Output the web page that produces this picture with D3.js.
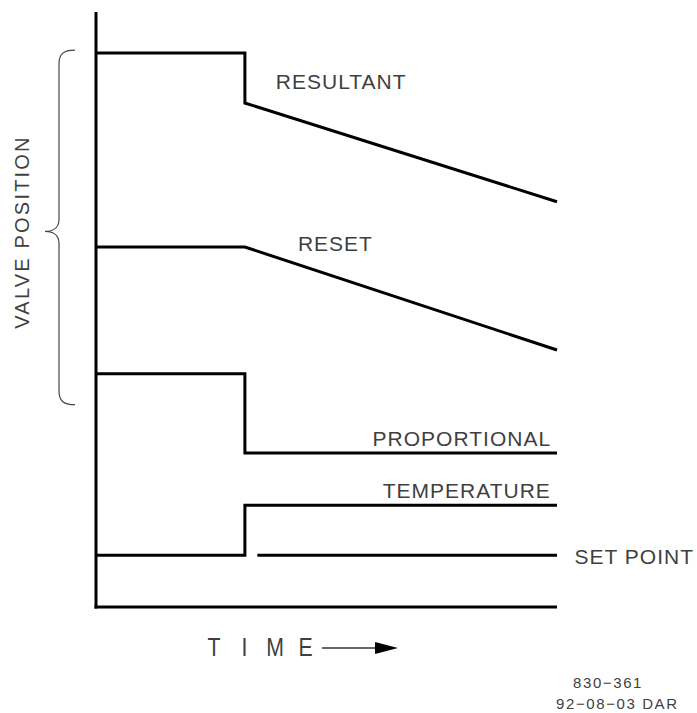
<!DOCTYPE html>
<html><head><meta charset="utf-8">
<script src="https://cdn.jsdelivr.net/npm/d3@7"></script>
<style>
html,body{margin:0;padding:0;background:#fff;}
text{font-family:"Liberation Sans","DejaVu Sans",sans-serif;fill:#3f3f3f;}
</style></head>
<body><svg id="c" width="697" height="713"></svg>
<script>
// Time (0..10) and valve position (0..100)
const resultant = [[0,93.1],[3.23,93.1],[3.23,84.7],[10,68.1]];
const reset = [[0,60.5],[3.23,60.5],[10,43.2]];
const proportional = [[0,39.2],[3.23,39.2],[3.23,25.9],[10,25.9]];
const temperature = [[0,8.7],[3.23,8.7],[3.23,17.1],[10,17.1]];
const setPoint = [[3.5,8.7],[10,8.7]];
const seriesNames = ["RESULTANT","RESET","PROPORTIONAL","TEMPERATURE","SET POINT"];
const labelPos = [[3.9,87.0],[4.38,59.8],[6.0,27.1],[6.22,18.3],[10.38,7.3]];
const braceRange = [34, 93.6];
const timeLetters = ["T","I","M","E"];
const drawingNo = ["830\u2212361","92\u221208\u221203 DAR"];

const svg = d3.select("#c");
const x = d3.scaleLinear().domain([0,10]).range([96,557]);
const y = d3.scaleLinear().domain([0,100]).range([607,12]);
const line = d3.line().x(d=>x(d[0])).y(d=>y(d[1]));

// axes
svg.append("line").attr("x1",x(0)).attr("x2",x(0)).attr("y1",y(100)).attr("y2",y(0)+1.5)
  .attr("stroke","#000").attr("stroke-width",3);
svg.append("line").attr("x1",x(0)-1.5).attr("x2",x(10)).attr("y1",y(0)).attr("y2",y(0))
  .attr("stroke","#000").attr("stroke-width",3);

[resultant,reset,proportional,temperature,setPoint].forEach(s=>{
  svg.append("path").attr("d",line(s)).attr("fill","none").attr("stroke","#000")
    .attr("stroke-width",3).attr("stroke-linejoin","miter");
});

seriesNames.forEach((n,i)=>{
  svg.append("text").attr("x",x(labelPos[i][0])).attr("y",y(labelPos[i][1]))
    .attr("font-size",21).attr("letter-spacing",1).text(n);
});

// brace
const bt=y(braceRange[1]), bb=y(braceRange[0]), bm=(bt+bb)/2+4;
const bx=59;
const brace = `M75,${bt} C63,${bt} ${bx},${bt+4} ${bx},${bt+14} L${bx},${bm-12} C${bx},${bm-3} 52,${bm} 45,${bm} C52,${bm} ${bx},${bm+3} ${bx},${bm+12} L${bx},${bb-14} C${bx},${bb-4} 63,${bb} 75,${bb}`;
svg.append("path").attr("d",brace).attr("fill","none").attr("stroke","#444").attr("stroke-width",1.2);

svg.append("text").attr("transform",`translate(29,232) rotate(-90)`).attr("text-anchor","middle")
  .attr("font-size",20).attr("letter-spacing",2.2).text("VALVE POSITION");

// time label
timeLetters.forEach((l,i)=>{
  svg.append("text").attr("x",214+i*30.5).attr("y",656).attr("text-anchor","middle")
    .attr("font-size",25).attr("transform",`translate(${(214+i*30.5)*0.15},0) scale(0.85,1)`).text(l);
});
svg.append("line").attr("x1",322).attr("x2",380).attr("y1",648).attr("y2",648).attr("stroke","#333").attr("stroke-width",1.3);
svg.append("path").attr("d","M375,642 L398,648 L375,654 Z").attr("fill","#000");

svg.append("text").attr("x",573).attr("y",688).attr("font-size",15).attr("letter-spacing",1.6).text(drawingNo[0]);
svg.append("text").attr("x",556).attr("y",709).attr("font-size",15).attr("letter-spacing",1.6).text(drawingNo[1]);
</script></body></html>
